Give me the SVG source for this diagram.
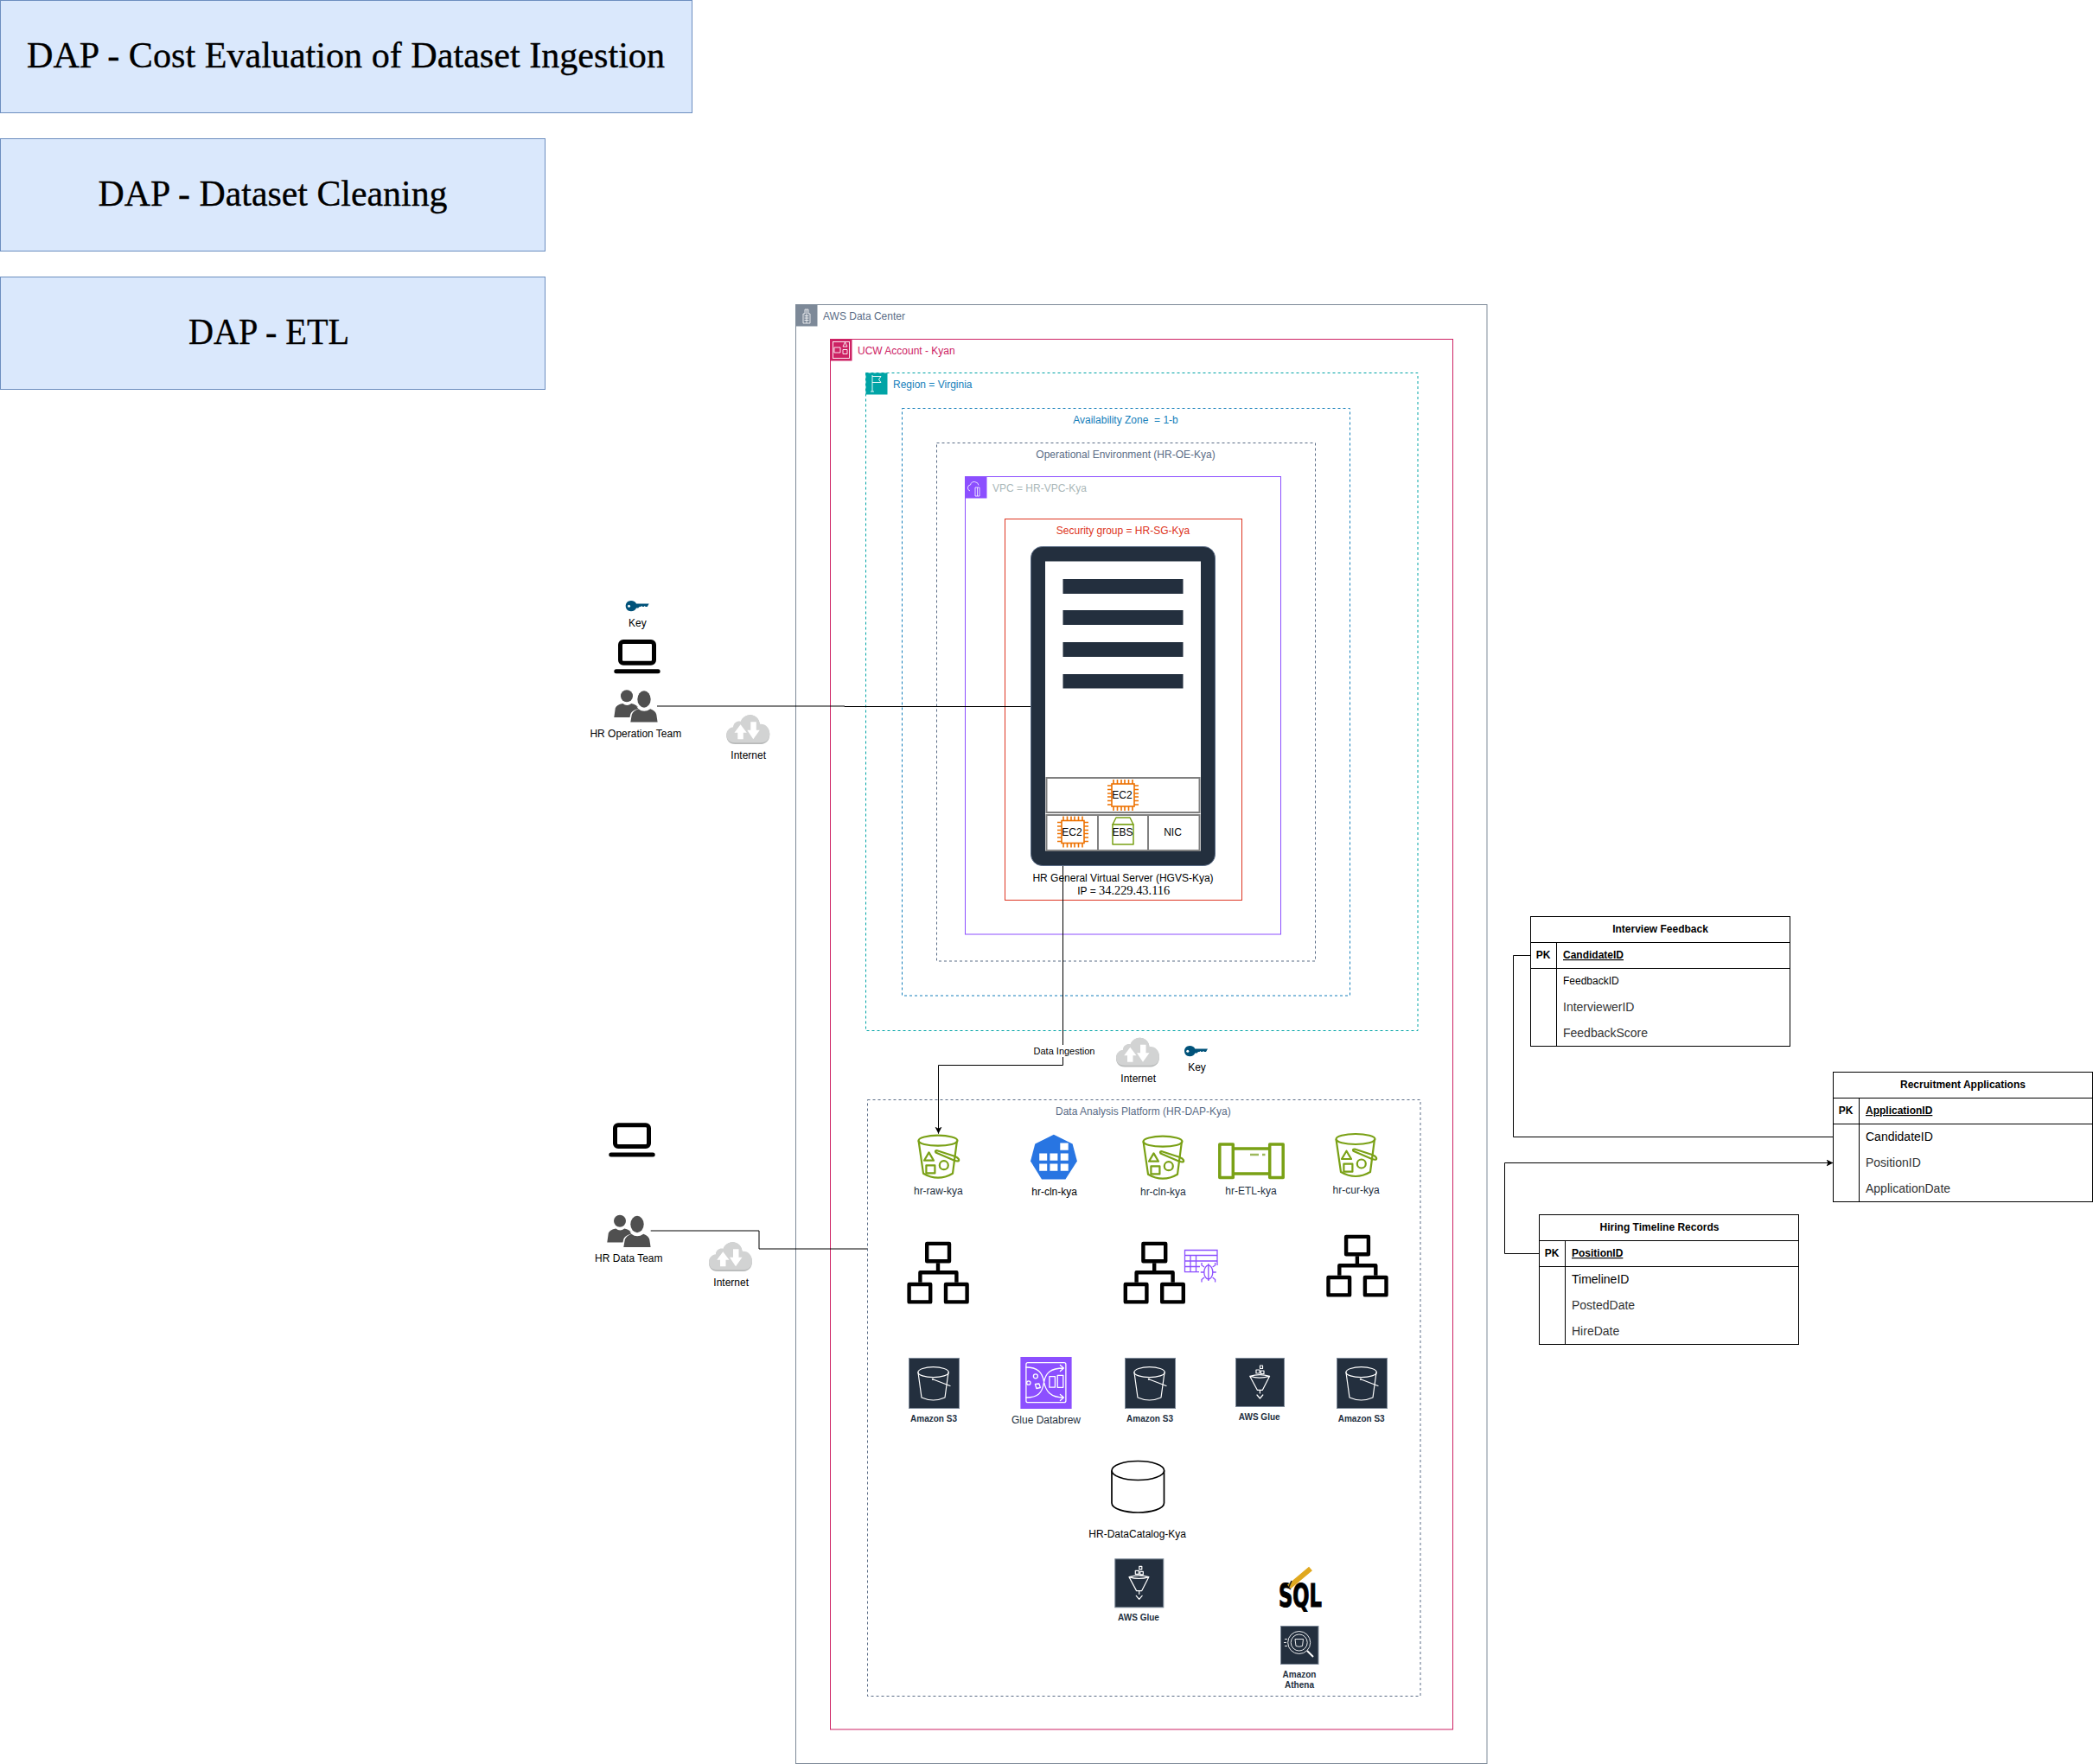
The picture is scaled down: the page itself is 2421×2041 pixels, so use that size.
<svg xmlns="http://www.w3.org/2000/svg" width="2421" height="2041" viewBox="0 0 2421 2041">
<style>
text{font-family:"Liberation Sans",Arial,sans-serif;font-size:12px;fill:#000}
.m{text-anchor:middle}
.d{fill:#232F3E}
.b{font-weight:bold;font-size:10px;fill:#232F3E;text-anchor:middle}
.title{font-family:"Liberation Serif","Times New Roman",serif;font-size:42px;text-anchor:middle;stroke:#000;stroke-width:0.35}
.tb{fill:#dae8fc;stroke:#6c8ebf;stroke-width:1}
.grp{fill:none;stroke-width:1}
.dash{stroke-dasharray:3 3}
.conn{fill:none;stroke:#000;stroke-width:1}
.th{font-weight:bold}
.tl{fill:none;stroke:#000;stroke-width:1}
.t14{font-size:14px}
.row{fill:#fff;stroke:#808080;stroke-width:2}
.grn{fill:none;stroke:#7AA116;stroke-width:2.2;stroke-linejoin:round}
.wl{fill:none;stroke:#fff;stroke-width:1.2;stroke-linejoin:round;stroke-linecap:round}
.org{fill:none;stroke:#000;stroke-width:4.4;stroke-linejoin:round}
.chip{fill:#fff;stroke:#ED7100;stroke-width:1.6}
.darkbox{fill:#232F3E;stroke:#7D8998;stroke-width:1}
</style>
<defs>
<marker id="arrow" markerUnits="userSpaceOnUse" markerWidth="9" markerHeight="9" refX="8" refY="4" orient="auto">
<path d="M0 0L8 4L0 8L2 4Z" fill="#000"/>
</marker>
<g id="bucket">
<ellipse class="grn" cx="25" cy="7" rx="22.5" ry="6"/>
<path class="grn" d="M2.5 7L8 45Q25 55 42 45L47 7"/>
<path d="M9 30L14.5 20.7L20 30Z" class="grn"/>
<rect class="grn" x="11.4" y="35.7" width="10" height="9"/>
<ellipse class="grn" cx="31.8" cy="35.5" rx="5" ry="5"/>
<path class="grn" d="M22.4 20.7L44 30Q50 32 49 28.5Q48 26.500 44 25L24 18.500Q21 18.500 22.400 20.700Z"/>
</g>
<g id="orgchart">
<rect class="org" x="22.800" y="2.200" width="25.800" height="20.400"/>
<rect class="org" x="2.200" y="49.300" width="24.600" height="20.400"/>
<rect class="org" x="44.600" y="49.300" width="24.600" height="20.400"/>
<path class="org" d="M35.600 24.600V35.600M15 47V35.600H57V47"/>
</g>
<g id="s3dark">
<rect class="darkbox" x="0.500" y="0.500" width="58" height="58"/>
<ellipse class="wl" cx="28.600" cy="16.700" rx="17.700" ry="6"/>
<path class="wl" d="M11 17L15 46Q28.600 52 42 46L46 17"/>
<path class="wl" d="M27.800 24.700L48 32.500"/>
<circle cx="27.800" cy="24.700" r="1" fill="#fff"/>
</g>
<g id="gluedark">
<rect class="darkbox" x="0.500" y="0.500" width="56" height="56"/>
<path class="wl" d="M16.700 21.300Q28 25 39.600 21.300Q28 18 16.700 21.300ZM16.700 21.300L25.300 37.300H31.400L39.600 21.300M28.400 37.300V41M25 43L28.400 47L31.800 43M24 14h4v4h-4zM28.500 9h3v3.500h-3zM29.500 15h3.500v3.500h-3.500z"/>
</g>
<g id="cloud">
<path d="M10 33.700C3 33.700 0 29 0 24C0 18.500 4 15.500 8 15C8 9.500 13 7.500 16.500 8.500C18.500 3 23 0 27.500 0C33.500 0 38.500 5 38.500 11.500C44.500 10.500 50 15.500 50 22.500C50 29 46 33.700 40 33.700Z" fill="#B8BABA"/>
<path d="M10 32C3 32 0 28 0 23C0 17.500 4 14.500 8 14C8 8.500 13 6.500 16.500 7.500C18.500 2 23 0 27.500 0C33.500 0 38.500 5 38.500 10.500C44.500 9.500 50 14.500 50 21.500C50 28 46 32 40 32Z" fill="#D2D3D3"/>
<path d="M16.300 11L23.500 20.500H19.500V28H13V20.500H9.200Z" fill="#fff"/>
<path d="M31 28L38.500 17.500H34.500V8H28V17.500H24Z" fill="#fff"/>
</g>
<g id="key">
<path d="M6.200 0C9.200 0 11.500 1.500 12.300 3.500H27L25 7H23L22 6L21 7H19.500L18.500 6L17.500 7H16L14.500 8.500H12.300C11.500 10.800 9.200 12.300 6.200 12.300C2.500 12.300 0 9.500 0 6.100C0 2.800 2.500 0 6.200 0Z" fill="#00527A"/>
<circle cx="3.800" cy="6.200" r="1.500" fill="#fff"/>
</g>
<g id="laptop">
<rect x="7.200" y="2.500" width="39" height="24.700" rx="3.500" fill="none" stroke="#000" stroke-width="5"/>
<rect x="0" y="34.300" width="53.400" height="5" rx="2.500" fill="#000"/>
</g>
<g id="users">
<circle cx="14.700" cy="7" r="7" fill="#505050"/>
<path d="M0 31.700L1.500 21Q3 17 10 15.700Q15 19.500 20 15.700Q26 17 29 21L25 31.700Z" fill="#505050"/>
<ellipse cx="34.700" cy="10.700" rx="9.500" ry="11.500" fill="#fff"/>
<path d="M17 37.300L19 28Q20 24 28 21.700L26 19L60 30V37.300Z" fill="#fff"/>
<ellipse cx="34.700" cy="10.700" rx="7.700" ry="9.700" fill="#505050"/>
<path d="M19 37.300L20.500 28.500Q22 24 28 22Q34.700 27 42 22Q48 24 49 28.500L50.300 37.300Z" fill="#505050"/>
</g>
<g id="chip">
<rect class="chip" x="-13" y="-13" width="26" height="26"/>
<path class="chip" d="M-11-13v-5M-6.500-13v-5M-2-13v-5M2-13v-5M6.500-13v-5M11-13v-5M-11 13v5M-6.500 13v5M-2 13v5M2 13v5M6.500 13v5M11 13v5M-13-11h-5M-13-6.500h-5M-13-2h-5M-13 2h-5M-13 6.500h-5M-13 11h-5M13-11h5M13-6.500h5M13-2h5M13 2h5M13 6.500h5M13 11h5"/>
</g>
</defs>

<g id="title-cost"><rect class="tb" x="0.500" y="0.500" width="800" height="130"/><text class="title" x="400" y="78" textLength="738" lengthAdjust="spacingAndGlyphs">DAP - Cost Evaluation of Dataset Ingestion</text></g>
<g id="title-cleaning"><rect class="tb" x="0.500" y="160.500" width="630" height="130"/><text class="title" x="315.500" y="237.500" textLength="404" lengthAdjust="spacingAndGlyphs">DAP - Dataset Cleaning</text></g>
<g id="title-etl"><rect class="tb" x="0.500" y="320.500" width="630" height="130"/><text class="title" x="311" y="397.500" textLength="186" lengthAdjust="spacingAndGlyphs">DAP - ETL</text></g>

<g id="aws-data-center">
<rect class="grp" stroke="#7D8998" x="920.500" y="352.500" width="799.500" height="1688"/>
<rect x="920.500" y="352.500" width="25" height="25" fill="#7D8998"/>
<path d="M929 374V363H931V358H935V363H937V374ZM930.500 365.500h5M930.500 368h5M930.500 370.500h5M933 358v16" fill="none" stroke="#fff" stroke-width="0.800"/>
<text x="952" y="370" style="fill:#5A6C86">AWS Data Center</text>
</g>
<g id="ucw-account">
<rect class="grp" stroke="#CD2264" x="960.500" y="392.500" width="720" height="1608.500"/>
<rect x="960.500" y="392.500" width="25" height="25" fill="#CD2264"/>
<path d="M965 402h7v6h-7zM975 401l2.500-5 2.500 5zM978 404.500h-3v5h5v-5zM975 396" fill="none" stroke="#fff" stroke-width="0.900"/>
<rect x="963.500" y="395.500" width="19" height="19" fill="none" stroke="#fff" stroke-width="0.900"/>
<text x="992" y="410" style="fill:#CD2264">UCW Account - Kyan</text>
</g>
<g id="region">
<rect class="grp dash" stroke="#00A4A6" x="1001.500" y="431.500" width="638.500" height="761"/>
<rect x="1001.500" y="431.500" width="25" height="25" fill="#00A4A6"/>
<path d="M1009 434v19M1007 453h4M1009 435.500h10l-2.500 3.500 2.500 3.500h-10" fill="none" stroke="#fff" stroke-width="0.900"/>
<text x="1033" y="449" style="fill:#147EBA">Region = Virginia</text>
</g>
<g id="availability-zone">
<rect class="grp dash" stroke="#147EBA" x="1043.500" y="472.500" width="518" height="679.500"/>
<text class="m" x="1302" y="490" xml:space="preserve" style="fill:#147EBA">Availability Zone  = 1-b</text>
</g>
<g id="operational-environment">
<rect class="grp dash" stroke="#5A6C86" x="1083.500" y="512.500" width="438" height="599.500"/>
<text class="m" x="1302" y="530" style="fill:#5A6C86">Operational Environment (HR-OE-Kya)</text>
</g>
<g id="vpc">
<rect class="grp" stroke="#8C4FFF" x="1116.500" y="551.500" width="365" height="529.500"/>
<rect x="1116.500" y="551.500" width="25" height="25" fill="#8C4FFF"/>
<path d="M1122 568q-3-1-2.500-4t3-3q1-4 5-3.500t4.500 4M1128 564h5v10h-5zM1130.500 564v10" fill="none" stroke="#fff" stroke-width="0.800"/>
<text x="1148" y="569" style="fill:#AAB7B8">VPC = HR-VPC-Kya</text>
</g>
<g id="security-group">
<rect class="grp" stroke="#DD3522" x="1162.500" y="600.500" width="274" height="441"/>
<text class="m" x="1299" y="618" style="fill:#DD3522">Security group = HR-SG-Kya</text>
</g>

<g id="server">
<rect x="1192.500" y="632.500" width="213" height="369" rx="13" fill="#232F3E" stroke="#5A6C86" stroke-width="1"/>
<rect x="1209" y="649.500" width="180" height="335" fill="#fff"/>
<rect x="1229.500" y="670" width="139" height="17" fill="#232F3E"/>
<rect x="1229.500" y="706" width="139" height="17" fill="#232F3E"/>
<rect x="1229.500" y="743" width="139" height="17" fill="#232F3E"/>
<rect x="1229.500" y="780" width="139" height="16.500" fill="#232F3E"/>
<rect class="row" x="1210.500" y="900" width="177" height="40"/>
<rect class="row" x="1210.500" y="943" width="177" height="41"/>
<path d="M1270 943V984M1328 943V984" stroke="#808080" stroke-width="2" fill="none"/>
<use href="#chip" x="1299" y="920"/>
<use href="#chip" x="1241" y="962.500"/>
<g fill="#fff" stroke="#7AA116" stroke-width="1.500" stroke-linejoin="round"><path d="M1287 954L1291 946H1307L1311 954Z"/><rect x="1287" y="954" width="24" height="23"/></g>
<text class="m" x="1298" y="924">EC2</text>
<text class="m" x="1240" y="967">EC2</text>
<text class="m" x="1298.500" y="967">EBS</text>
<text class="m" x="1356.500" y="967">NIC</text>
<text class="m" x="1299" y="1020">HR General Virtual Server (HGVS-Kya)</text>
<text class="m" x="1299.700" y="1034.500">IP = <tspan style="font-family:'Liberation Serif',serif;font-size:14.400px">34.229.43.116</tspan></text>
</g>

<g id="connectors">
<path class="conn" d="M760 817H977V817.500H1192"/>
<path class="conn" d="M1229.500 1002V1232.500H1085.500V1311.700" marker-end="url(#arrow)"/>
<path class="conn" d="M752.700 1424H878V1445H1003.700"/>
<path class="conn" d="M1770.500 1105.500H1750.500V1315.500H2120.500"/>
<path class="conn" d="M1780 1450.500H1740.500V1345.500H2120.500" marker-end="url(#arrow)"/>
<rect x="1194" y="1209" width="73" height="14" fill="#fff"/>
<text class="m" x="1231" y="1220" style="font-size:11px">Data Ingestion</text>
</g>

<g id="key-ops"><use href="#key" x="723.700" y="695"/><text class="m" x="737.300" y="725.300">Key</text></g>
<g id="laptop-ops"><use href="#laptop" x="710.300" y="740"/></g>
<g id="hr-operation-team"><use href="#users" x="710.300" y="798.300"/><text class="m" x="735.300" y="852.700">HR Operation Team</text></g>
<g id="internet-ops"><use href="#cloud" x="840.300" y="827.300"/><text class="m" x="865.700" y="878.300">Internet</text></g>
<g id="laptop-data"><use href="#laptop" x="704.300" y="1299.300"/></g>
<g id="hr-data-team"><use href="#users" x="702.300" y="1405.800"/><text class="m" x="727.300" y="1460.300">HR Data Team</text></g>
<g id="internet-data"><use href="#cloud" x="820" y="1437.300"/><text class="m" x="845.700" y="1488.300">Internet</text></g>
<g id="internet-dap"><use href="#cloud" x="1291" y="1200.700"/><text class="m" x="1316.700" y="1251.700">Internet</text></g>
<g id="key-dap"><use href="#key" x="1370" y="1210"/><text class="m" x="1384.500" y="1239.300">Key</text></g>

<g id="data-analysis-platform">
<rect class="grp dash" stroke="#5A6C86" x="1003.500" y="1272.500" width="639.500" height="690"/>
<text class="m" x="1322.400" y="1290" style="fill:#5A6C86">Data Analysis Platform (HR-DAP-Kya)</text>
</g>

<g id="hr-raw-kya"><use href="#bucket" x="1060" y="1312.700"/><text class="m d" x="1085.300" y="1381.500">hr-raw-kya</text></g>
<g id="hr-cln-kya-service">
<path d="M1218.900 1312.700L1240.600 1323.400L1245.900 1343.400L1232.400 1364.400H1205L1192 1343.400L1197.300 1323.400Z" fill="#2875E2"/>
<path d="M1226.300 1322.400h9.400v8.300h-9.400zM1202.200 1334.400h9v8.300h-9zM1214.400 1334.400h9v8.300h-9zM1226.700 1334.400h9v8.300h-9zM1202.200 1346.400h9v8.300h-9zM1214.400 1346.400h9v8.300h-9zM1226.700 1346.400h9v8.300h-9z" fill="#fff"/>
<text class="m" x="1219.600" y="1382.500">hr-cln-kya</text>
</g>
<g id="hr-cln-kya"><use href="#bucket" x="1320" y="1313.700"/><text class="m d" x="1345.300" y="1382.500">hr-cln-kya</text></g>
<g id="hr-etl-kya">
<g fill="none" stroke="#7AA116" stroke-width="3.500" stroke-linejoin="round">
<rect x="1410.800" y="1324" width="15.500" height="38.500"/>
<rect x="1468.700" y="1324" width="15.500" height="38.500"/>
<path d="M1426.300 1329H1468.700M1426.300 1358H1468.700"/>
</g>
<path d="M1446 1336H1456M1460 1336H1463.500" stroke="#9DB95C" stroke-width="2.500" fill="none"/>
<text class="m d" x="1447" y="1381.500">hr-ETL-kya</text>
</g>
<g id="hr-cur-kya"><use href="#bucket" x="1543" y="1311"/><text class="m d" x="1568.600" y="1380.800">hr-cur-kya</text></g>

<g id="workflow-1"><use href="#orgchart" x="1049.400" y="1436.700"/></g>
<g id="workflow-2"><use href="#orgchart" x="1299.600" y="1436.700"/></g>
<g id="workflow-3"><use href="#orgchart" x="1534.300" y="1428.700"/></g>
<g id="crawler" fill="none" stroke="#8C4FFF" stroke-width="1.300">
<path d="M1387 1471.700H1370.500V1446.500H1408V1464M1370.500 1452.500H1408M1370.500 1459H1408M1370.500 1465.500H1388M1377 1452.500V1471.700M1383.500 1452.500V1471.700"/>
<ellipse cx="1397.800" cy="1472" rx="5" ry="8" fill="#fff"/>
<path d="M1397.800 1462v20M1393 1466l-3-2v-3M1402.600 1466l3-2v-3M1392.800 1472h-4M1402.800 1472h4M1393 1478l-3 2.500v3M1402.600 1478l3 2.500v3"/>
</g>

<g id="s3-1"><use href="#s3dark" x="1051" y="1571"/><text class="b" x="1080" y="1644.500">Amazon S3</text></g>
<g id="glue-databrew">
<rect x="1180.400" y="1570" width="59.200" height="60" fill="#8C4FFF"/>
<g transform="translate(1180.400 1570)" fill="none" stroke="#fff" stroke-width="1.300" stroke-linecap="round" stroke-linejoin="round">
<rect x="6.500" y="6.700" width="46" height="46" rx="2"/>
<path d="M6.500 12C20 12 25 18 27 28C29 40 35 47 50 47M46 43.500L50 47L46 50.500M6.500 47C20 47 25 42 27 30C29 18 35 13 50 13M46 9.500L50 13L46 16.500"/>
<circle cx="17.500" cy="22.300" r="2.500"/><circle cx="9.400" cy="30" r="2.200"/>
<path d="M17 31.500L21.500 31L23 35.500L18.500 36.500Z"/>
<rect x="33.500" y="22.700" width="6.500" height="12.500"/><rect x="42.800" y="21.300" width="6.600" height="14"/>
</g>
<text class="m d" x="1210" y="1646.700">Glue Databrew</text>
</g>
<g id="s3-2"><use href="#s3dark" x="1301" y="1571"/><text class="b" x="1330" y="1644.500">Amazon S3</text></g>
<g id="aws-glue-1"><use href="#gluedark" x="1429" y="1571"/><text class="b" x="1456.700" y="1643">AWS Glue</text></g>
<g id="s3-3"><use href="#s3dark" x="1546" y="1571"/><text class="b" x="1574.700" y="1644.500">Amazon S3</text></g>

<g id="hr-datacatalog-kya">
<path d="M1286 1701.500V1739C1286 1746 1302 1750 1316.300 1750C1331 1750 1346.500 1746 1346.500 1739V1701.500" fill="#fff" stroke="#000" stroke-width="1.700"/>
<ellipse cx="1316.300" cy="1701.500" rx="30.300" ry="11" fill="#fff" stroke="#000" stroke-width="1.700"/>
<text class="m" x="1315.700" y="1779">HR-DataCatalog-Kya</text>
</g>
<g id="aws-glue-2"><use href="#gluedark" x="1289.300" y="1803.300"/><text class="b" x="1317" y="1874.700">AWS Glue</text></g>
<g id="sql">
<text x="1479" y="1859" textLength="50" lengthAdjust="spacingAndGlyphs" style="font-family:'DejaVu Sans',sans-serif;font-weight:bold;font-size:38px;stroke:#000;stroke-width:1.200">SQL</text>
<path d="M1491 1836L1516 1815" stroke="#E0A81E" stroke-width="6" fill="none"/>
<path d="M1491 1836L1494 1829" stroke="#222" stroke-width="1.500" fill="none"/>
</g>
<g id="amazon-athena">
<rect class="darkbox" x="1481.500" y="1881.500" width="43.500" height="44"/>
<g fill="none" stroke="#fff" stroke-width="0.900">
<circle cx="1502.700" cy="1900.500" r="13"/><circle cx="1502.700" cy="1900.500" r="9.500"/>
<path d="M1498 1896.500h9.500l-1 8q-3.800 1.500-7.500 0zM1486 1896.500h3M1485 1900.500h3M1486 1904.500h3"/>
<path d="M1512 1910l7 7" stroke-width="2"/>
</g>
<text class="b" x="1503" y="1941">Amazon</text>
<text class="b" x="1503" y="1953">Athena</text>
</g>

<g id="interview-feedback">
<rect x="1770.500" y="1060.500" width="300" height="150" fill="#fff" class="tl"/>
<path class="tl" d="M1770.500 1090.500H2070.500M1770.500 1120.500H2070.500M1800.500 1090.500V1210.500"/>
<text class="m th" x="1920.500" y="1079">Interview Feedback</text>
<text class="m th" x="1785" y="1109">PK</text>
<text class="th" x="1808" y="1109" text-decoration="underline">CandidateID</text>
<text x="1808" y="1139">FeedbackID</text>
<text class="t14" style="fill:#333" x="1808" y="1170">InterviewerID</text>
<text class="t14" style="fill:#333" x="1808" y="1200">FeedbackScore</text>
</g>
<g id="recruitment-applications">
<rect x="2120.500" y="1240.500" width="300" height="150" fill="#fff" class="tl"/>
<path class="tl" d="M2120.500 1270.500H2420.500M2120.500 1300.500H2420.500M2150.500 1270.500V1390.500"/>
<text class="m th" x="2270.500" y="1259">Recruitment Applications</text>
<text class="m th" x="2135" y="1289">PK</text>
<text class="th" x="2158" y="1289" text-decoration="underline">ApplicationID</text>
<text class="t14" x="2158" y="1320">CandidateID</text>
<text class="t14" style="fill:#333" x="2158" y="1350">PositionID</text>
<text class="t14" style="fill:#333" x="2158" y="1380">ApplicationDate</text>
</g>
<g id="hiring-timeline-records">
<rect x="1780.500" y="1405.500" width="300" height="150" fill="#fff" class="tl"/>
<path class="tl" d="M1780.500 1435.500H2080.500M1780.500 1465.500H2080.500M1810.500 1435.500V1555.500"/>
<text class="m th" x="1919.500" y="1424">Hiring Timeline Records</text>
<text class="m th" x="1795" y="1454">PK</text>
<text class="th" x="1818" y="1454" text-decoration="underline">PositionID</text>
<text class="t14" x="1818" y="1485">TimelineID</text>
<text class="t14" style="fill:#333" x="1818" y="1515">PostedDate</text>
<text class="t14" style="fill:#333" x="1818" y="1545">HireDate</text>
</g>
</svg>
